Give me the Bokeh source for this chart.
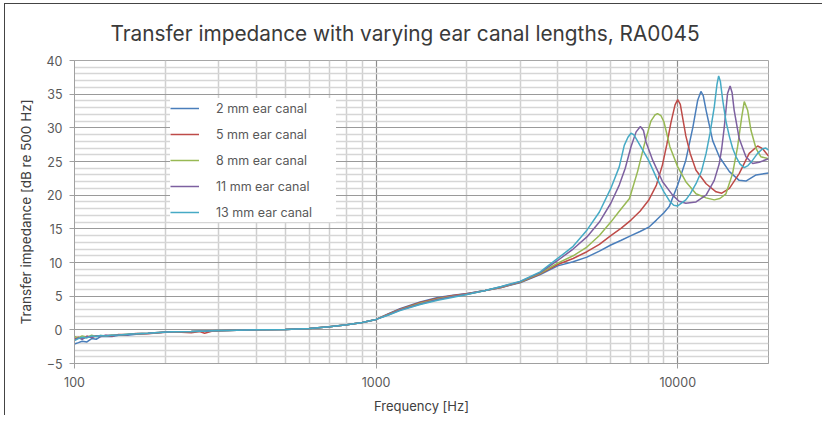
from bokeh.plotting import figure
from bokeh.models import Range1d, FixedTicker, PrintfTickFormatter
from bokeh.embed import file_html
from bokeh.resources import INLINE

TITLE = "Transfer impedance with varying ear canal lengths, RA0045"
X_LABEL = "Frequency [Hz]"
Y_LABEL = "Transfer impedance [dB re 500 Hz]"

series_names = ["2 mm ear canal", "5 mm ear canal", "8 mm ear canal", "11 mm ear canal", "13 mm ear canal"]
series_colors = ["#4a7ebb", "#be4b48", "#98b954", "#7d60a0", "#46aac5"]

x_ticks = [100, 1000, 10000]
x_minor = [200, 300, 400, 500, 600, 700, 800, 900, 2000, 3000, 4000, 5000, 6000, 7000, 8000, 9000, 20000]
y_ticks = [-5, 0, 5, 10, 15, 20, 25, 30, 35, 40]
y_minor = [v for v in range(-5, 41) if v % 5 != 0]

# low-frequency part (shared frequencies)
f_low = [100, 103, 106, 110, 114, 118, 122, 127, 133, 140, 150, 160, 175, 190, 210, 244, 260, 270, 285, 320, 400]
lo_2mm = [-2.1, -1.9, -1.7, -1.8, -1.3, -1.4, -1.0, -1.0, -1.0, -0.8, -0.8, -0.65, -0.55, -0.45, -0.3, -0.25, -0.2, -0.2, -0.15, -0.1, 0.0]
lo_5mm = [-1.3, -1.1, -1.3, -0.95, -1.15, -0.9, -1.0, -0.85, -0.9, -0.7, -0.7, -0.55, -0.6, -0.45, -0.3, -0.45, -0.25, -0.5, -0.2, -0.1, 0.0]
lo_8mm = [-1.0, -1.2, -0.9, -1.1, -0.8, -1.0, -0.85, -0.9, -0.75, -0.8, -0.65, -0.6, -0.5, -0.4, -0.3, -0.25, -0.2, -0.2, -0.15, -0.1, 0.0]
lo_11mm = [-1.5, -1.2, -1.4, -1.0, -1.1, -0.9, -0.95, -0.8, -0.85, -0.75, -0.7, -0.6, -0.5, -0.4, -0.3, -0.25, -0.2, -0.2, -0.15, -0.1, 0.0]
lo_13mm = [-1.6, -1.3, -1.1, -1.2, -0.9, -1.0, -0.85, -0.9, -0.8, -0.75, -0.65, -0.6, -0.5, -0.4, -0.3, -0.25, -0.2, -0.2, -0.15, -0.1, 0.0]

# mid part (shared frequencies)
f_mid = [500, 600, 700, 800, 900, 1000, 1100, 1200, 1400, 1600, 1800, 2000, 2300, 2600]
mid_2mm = [0.05, 0.2, 0.45, 0.75, 1.1, 1.55, 2.4, 3.15, 4.15, 4.8, 5.15, 5.4, 5.85, 6.3]
mid_5mm = [0.05, 0.2, 0.45, 0.75, 1.1, 1.55, 2.35, 3.05, 4.05, 4.7, 5.1, 5.35, 5.85, 6.3]
mid_8mm = [0.05, 0.2, 0.45, 0.75, 1.1, 1.55, 2.3, 3.0, 3.95, 4.6, 5.0, 5.3, 5.85, 6.35]
mid_11mm = [0.05, 0.2, 0.45, 0.75, 1.1, 1.55, 2.25, 2.95, 3.85, 4.5, 4.95, 5.3, 5.85, 6.4]
mid_13mm = [0.05, 0.2, 0.45, 0.75, 1.1, 1.55, 2.2, 2.85, 3.75, 4.4, 4.85, 5.25, 5.85, 6.45]

# high-frequency part (per series)
hf_2mm = [3000, 3500, 4000, 4500, 5000, 5500, 6000, 6500, 7000, 7500, 8050, 8500, 9000, 9370, 10000, 10640, 11230,
          11650, 11940, 12150, 12420, 13060, 13740, 14840, 15990, 16830, 18190, 20000]
hv_2mm = [7.0, 8.2, 9.5, 10.1, 10.8, 11.7, 12.6, 13.3, 14.0, 14.6, 15.3, 16.3, 17.4, 18.3, 21.5, 25.2, 30.1,
          34.1, 35.4, 34.8, 32.6, 28.1, 25.7, 23.5, 22.2, 22.1, 23.0, 23.3]

hf_5mm = [3000, 3500, 4000, 4500, 5000, 5500, 6000, 6500, 7000, 7500, 8000, 8500, 8900, 9200, 9500, 9800, 10000,
          10200, 10640, 11000, 11500, 12420, 13400, 14000, 14840, 15990, 17260, 18400, 19120, 20000]
hv_5mm = [7.05, 8.3, 9.7, 10.6, 11.6, 12.7, 14.0, 15.1, 16.3, 17.6, 19.2, 21.5, 24.5, 27.5, 30.8, 33.4, 34.2,
          33.5, 28.8, 26.2, 23.7, 21.7, 20.5, 20.3, 21.0, 23.2, 26.2, 27.3, 26.9, 25.8]

hf_8mm = [3000, 3500, 4000, 4500, 5000, 5500, 6000, 6400, 6920, 7360, 7750, 8150, 8400, 8570, 8800, 9000, 9420,
          10000, 10640, 11500, 12420, 13220, 13800, 14450, 15200, 15800, 16300, 16620, 17060, 17500, 18190, 18880, 20000]
hv_8mm = [7.1, 8.4, 9.9, 11.0, 12.3, 14.0, 16.0, 17.6, 19.5, 23.5, 27.5, 31.0, 31.9, 32.1, 31.8, 30.9, 27.2,
          24.2, 22.0, 20.2, 19.6, 19.3, 19.5, 20.2, 23.2, 27.2, 31.6, 33.9, 32.6, 29.6, 26.9, 25.7, 25.4]

hf_11mm = [3000, 3500, 4000, 4500, 5000, 5500, 6000, 6400, 6700, 7000, 7280, 7520, 7700, 7850, 8260, 8910, 9620,
           10100, 10640, 11500, 12420, 13220, 13740, 14000, 14270, 14630, 14920, 15150, 15390, 15990, 16830, 17720, 18630, 20000]
hv_11mm = [7.15, 8.5, 10.3, 12.0, 13.8, 16.0, 18.8, 21.5, 24.0, 27.2, 29.4, 30.2, 29.6, 27.9, 25.2, 22.0, 20.0,
           19.1, 18.8, 19.0, 20.0, 22.2, 24.7, 27.0, 30.1, 35.1, 36.2, 35.2, 32.6, 28.4, 25.7, 24.7, 24.9, 25.4]

hf_13mm = [3000, 3500, 4000, 4500, 5000, 5500, 6000, 6400, 6650, 6840, 7000, 7150, 7280, 7660, 8000, 8500, 9000,
           9400, 9700, 10000, 10640, 11000, 11500, 12000, 12420, 12800, 13220, 13500, 13670, 13850, 14100, 14450,
           14840, 15200, 15610, 16100, 16620, 17100, 17720, 18400, 19120, 19600, 20000]
hv_13mm = [7.2, 8.6, 10.6, 12.4, 14.8, 17.5, 21.0, 24.2, 27.4, 28.6, 29.2, 29.0, 28.4, 26.7, 25.2, 22.6, 20.5,
           19.1, 18.5, 18.4, 19.3, 20.2, 21.7, 23.6, 26.2, 29.2, 33.1, 36.5, 37.7, 36.9, 34.1, 31.0,
           28.7, 27.0, 25.7, 24.6, 24.1, 24.4, 25.2, 26.2, 26.9, 27.0, 26.7]

freqs = [f_low + f_mid + hf_2mm, f_low + f_mid + hf_5mm, f_low + f_mid + hf_8mm,
         f_low + f_mid + hf_11mm, f_low + f_mid + hf_13mm]
values = [lo_2mm + mid_2mm + hv_2mm, lo_5mm + mid_5mm + hv_5mm, lo_8mm + mid_8mm + hv_8mm,
          lo_11mm + mid_11mm + hv_11mm, lo_13mm + mid_13mm + hv_13mm]

FONT = "Inter"
TEXT = "#595959"

p = figure(width=818, height=412, x_axis_type="log",
           x_range=Range1d(100, 20000), y_range=Range1d(-5, 40),
           output_backend="svg", toolbar_location=None,
           min_border_left=69, min_border_right=55, min_border_top=56, min_border_bottom=53,
           title=TITLE)
p.styles = {"border-left": "1px solid #444444", "border-top": "1px solid #444444",
            "margin-left": "4px", "margin-top": "3px"}

p.title.text_font = FONT
p.title.text_font_size = "20.8px"
p.title.text_font_style = "normal"
p.title.text_color = "#3a3a3a"
p.title.align = "left"
p.title.offset = 36
p.title.standoff = 29

p.outline_line_color = "#a6a6a6"
p.background_fill_color = "white"
p.border_fill_color = "white"

p.xaxis.ticker = FixedTicker(ticks=x_ticks, minor_ticks=x_minor)
p.xaxis.formatter = PrintfTickFormatter(format="%d")
p.yaxis.ticker = FixedTicker(ticks=y_ticks, minor_ticks=y_minor)

for ax in (p.xaxis[0], p.yaxis[0]):
    ax.axis_line_color = "#a0a0a0"
    ax.major_tick_line_color = "#a0a0a0"
    ax.major_tick_out = 5
    ax.major_tick_in = 0
    ax.minor_tick_line_color = None
    ax.major_label_text_font = FONT
    ax.major_label_text_font_size = "12.5px"
    ax.major_label_text_color = TEXT
    ax.axis_label_text_font = FONT
    ax.axis_label_text_font_style = "normal"
    ax.axis_label_text_color = "#404040"

p.xaxis.axis_label = X_LABEL
p.yaxis.axis_label = Y_LABEL
p.xaxis.axis_label_text_font_size = "13px"
p.yaxis.axis_label_text_font_size = "13.5px"
p.xaxis.major_label_standoff = 8
p.xaxis.axis_label_standoff = 8
p.yaxis.major_label_standoff = 7
p.yaxis.axis_label_standoff = 10

p.xgrid.grid_line_color = "#8c8c8c"
p.xgrid.grid_line_width = 1.2
p.xgrid.minor_grid_line_color = "#cfcfcf"
p.xgrid.minor_grid_line_width = 1.5
p.ygrid.grid_line_color = "#9a9a9a"
p.ygrid.grid_line_width = 1.2
p.ygrid.minor_grid_line_color = "#d6d6d6"
p.ygrid.minor_grid_line_width = 1.5

for f, v, name, col in zip(freqs, values, series_names, series_colors):
    p.line(f, v, line_color=col, line_width=1.5, legend_label=name)

lg = p.legend[0]
lg.location = (96, 141)
lg.border_line_color = None
lg.background_fill_color = "white"
lg.background_fill_alpha = 1.0
lg.padding = 8
lg.margin = 0
lg.spacing = 6
lg.label_height = 20
lg.glyph_height = 20
lg.glyph_width = 29
lg.label_standoff = 17
lg.label_width = 120
lg.label_text_font = FONT
lg.label_text_font_size = "12.5px"
lg.label_text_color = TEXT

open("out.html", "w").write(file_html(p, INLINE))
